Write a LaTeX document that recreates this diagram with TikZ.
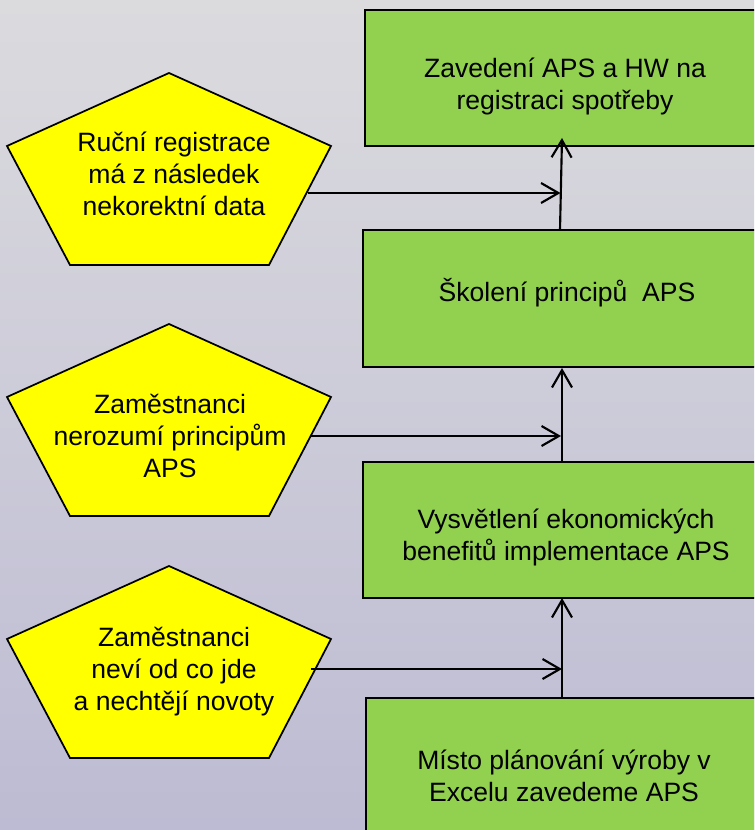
\documentclass[tikz,border=0pt]{standalone}
\usepackage{fontspec}
\setmainfont{Liberation Sans}
\usetikzlibrary{arrows.meta}
\definecolor{bgtop}{HTML}{DBDBDE}
\definecolor{bgbot}{HTML}{BDBBD3}
\definecolor{boxgreen}{HTML}{92D050}
\definecolor{penyellow}{HTML}{FFFF00}
\tikzset{
  greenbox/.style={draw=black, line width=1.6pt, fill=boxgreen},
  penta/.style={draw=black, line width=1.3pt, fill=penyellow, line join=miter},
  lbl/.style={align=center, font=\fontsize{19.9pt}{24pt}\selectfont, inner sep=0pt},
  conn/.style={draw=black, line width=1.6pt, -{Straight Barb[length=13pt,width=15pt,line width=1.6pt]}},
  plain/.style={draw=black, line width=1.5pt}
}
\begin{document}
\begin{tikzpicture}[x=0.75pt,y=-0.75pt]
\useasboundingbox (0,0) rectangle (754,830);
\clip (0,0) rectangle (754,830);
\shade[top color=bgtop, bottom color=bgbot] (0,0) rectangle (754,830);
% green boxes
\path[greenbox] (365,10) rectangle (770,146);
\path[greenbox] (363,230) rectangle (770,367);
\path[greenbox] (363,462) rectangle (770,598);
\path[greenbox] (366,698) rectangle (770,852);
\node[lbl] (b1) at (565,86) {Zavedení APS a HW na\\registraci spotřeby};
\node[lbl] (b2) at (567,293) {Školení principů\ \ APS};
\node[lbl] (b3) at (566,537) {Vysvětlení ekonomických\\benefitů implementace APS};
\node[lbl] (b4) at (564,776) {Místo plánování výroby v\\Excelu zavedeme APS};
% box anchor coordinates
\coordinate (b1s) at (562,138);
\coordinate (b2n) at (560,230);
\coordinate (b2s) at (562,368);
\coordinate (b3n) at (562,462);
\coordinate (b3s) at (562,598);
\coordinate (b4n) at (562,698);
% pentagons
\path[penta] (169,73) -- (331,146) -- (269,265) -- (70,265) -- (7,146) -- cycle;
\path[penta] (169,324) -- (331,397) -- (269,516) -- (70,516) -- (7,397) -- cycle;
\path[penta] (169,566) -- (331,639) -- (269,758) -- (70,758) -- (7,639) -- cycle;
\node[lbl] (p1) at (174,174) {Ruční registrace\\má z následek \\nekorektní data};
\node[lbl] (p2) at (170,436) {Zaměstnanci\\nerozumí principům\\APS};
\node[lbl] (p3) at (174,672) {Zaměstnanci\\neví od co jde \\a nechtějí novoty};
\coordinate (p1e) at (308,193);
\coordinate (p2e) at (311,436);
\coordinate (p3e) at (311,669);
\coordinate (j1) at (560.5,193);
\coordinate (j2) at (561,436);
\coordinate (j3) at (562,669);
% connectors
\draw[conn] (b2n) -- (b1s);
\draw[conn] (b3n) -- (b2s);
\draw[conn] (b4n) -- (b3s);
\draw[conn] (p1e) -- (j1);
\draw[conn] (p2e) -- (j2);
\draw[conn] (p3e) -- (j3);
\end{tikzpicture}
\end{document}
